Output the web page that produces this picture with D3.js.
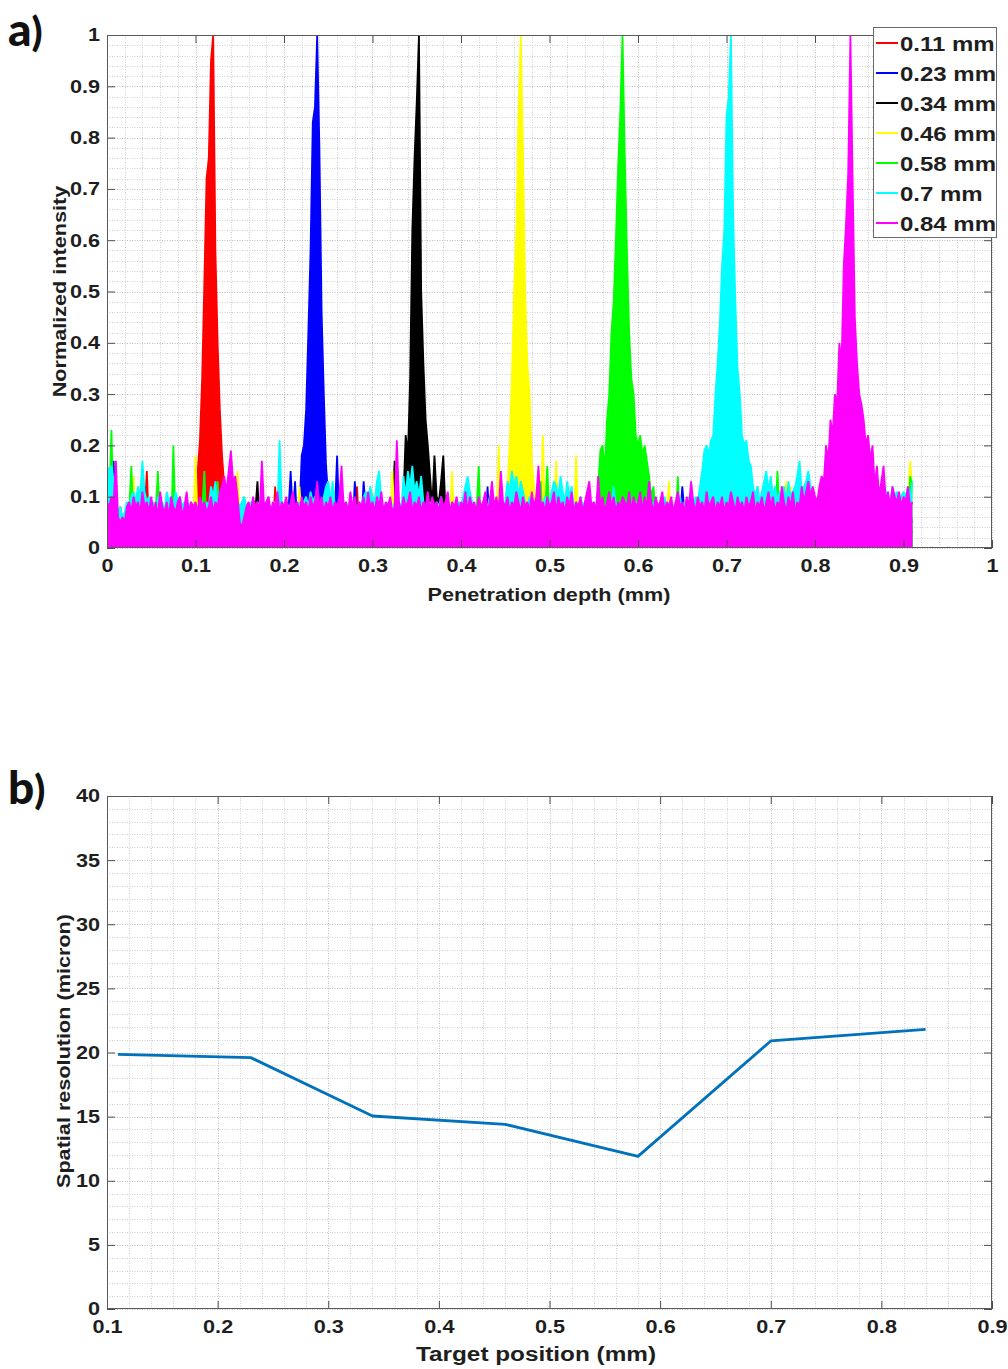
<!DOCTYPE html>
<html>
<head>
<meta charset="utf-8">
<script src="https://cdn.jsdelivr.net/npm/d3@7"></script>
<style>
  html, body { margin: 0; padding: 0; background: #fff; }
  svg { display: block; }
  text { font-family: "Liberation Sans", Arial, sans-serif; font-weight: bold; fill: #1e1e1e; }
  .tick text { font-size: 18.5px; }
  .tick line { stroke: #4d4d4d; }
  .grid-minor { stroke: #cfcfcf; stroke-width: 1; stroke-dasharray: 1 1.5; }
  .grid-major { stroke: #bdbdbd; stroke-width: 1; stroke-dasharray: 1 1.5; }
</style>
</head>
<body>
<svg id="fig" width="1008" height="1369"></svg>
<script>
// ---------- Panel a: normalized depth profiles ----------
// One sample every 0.0025 mm from 0 to 0.91 mm; intensity given in percent of the peak.
const sampleStep = 0.0025;
const targetLabels = ["0.11 mm", "0.23 mm", "0.34 mm", "0.46 mm", "0.58 mm", "0.7 mm", "0.84 mm"];
const profileColors = ["#ff0000", "#0000ff", "#000000", "#ffff00", "#00ff00", "#00ffff", "#ff00ff"];

const profile011 = [
  6,4,7,5,3,6,8,5,4,7,3,6,5,4,7,3,5,6,15,4,
  5,3,7,4,6,3,5,7,4,6,3,5,4,7,3,6,4,5,7,6,
  8,15,21,33,52,72,76,95,100,58,40,27,18,12,7,5,4,6,3,5,
  4,6,3,5,7,4,6,3,5,4,7,3,6,5,4,3,12,5,4,6,
  3,5,7,4,6,3,5,4,7,3,6,5,4,7,3,5,6,4,3,7,
  5,4,6,3,7,5,4,6,3,5,7,4,6,12,3,5,4,7,6,3,
  5,7,4,6,3,5,4,7,3,6,5,4,7,3,5,6,4,3,7,5,
  4,6,3,5,7,4,6,3,5,4,7,3,6,5,4,3,7,5,4,6,
  3,5,7,4,6,3,5,4,7,3,6,5,4,7,3,5,6,4,3,7,
  5,4,6,3,7,5,4,6,3,5,7,4,6,3,5,4,7,3,6,5,
  4,7,12,5,3,6,4,5,7,3,6,4,5,3,7,4,6,5,3,6,
  4,5,7,3,6,4,5,3,7,4,6,5,3,6,4,7,5,3,6,4,
  5,3,7,4,6,5,3,6,4,7,5,3,6,4,5,7,3,6,4,5,
  3,7,4,6,5,3,6,4,7,5,3,6,4,5,7,3,6,4,5,3,
  7,4,6,5,3,6,4,7,5,3,6,4,5,7,3,6,4,5,3,7,
  4,6,5,3,6,4,7,5,3,6,4,5,7,3,6,4,5,3,7,4,
  6,5,3,6,4,7,5,3,6,4,5,7,3,6,4,5,3,7,4,6,
  5,3,6,4,7,5,3,6,4,5,7,3,6,4,5,3,7,4,6,5,
  3,6,4,7,5
];
const profile023 = [
  5,7,4,17,6,3,7,5,4,6,3,5,7,4,6,3,5,12,4,6,
  3,7,5,4,6,3,5,7,4,6,3,5,4,7,3,6,5,4,7,3,
  6,4,5,7,3,6,4,5,3,7,4,6,5,3,6,4,7,5,3,6,
  4,5,7,3,6,4,5,3,7,4,6,5,3,6,4,7,5,3,6,4,
  5,3,7,15,6,13,4,7,18,20,27,42,58,83,86,100,78,46,30,16,
  10,6,4,7,18,5,3,6,4,7,5,3,13,6,4,5,13,7,3,6,
  4,7,5,3,6,4,5,7,3,6,4,5,3,7,4,6,5,3,6,4,
  7,5,3,6,4,5,7,3,6,4,5,3,7,4,6,5,3,6,4,7,
  5,3,6,4,7,5,3,6,4,5,7,3,12,4,6,5,3,6,4,7,
  3,6,4,5,7,3,6,4,5,3,7,4,6,5,3,6,4,7,5,3,
  6,4,5,7,3,6,4,5,3,7,4,6,5,3,6,4,7,5,3,6,
  4,5,7,3,6,4,5,3,7,4,6,5,3,6,4,7,5,3,6,4,
  5,3,7,4,6,5,3,6,4,7,5,3,6,4,5,7,3,6,4,5,
  12,7,4,6,5,3,6,4,7,5,3,6,4,5,7,3,6,4,5,3,
  7,4,6,5,3,6,4,7,5,3,6,4,5,7,3,6,4,5,3,7,
  4,6,5,3,6,4,7,5,3,6,4,5,7,3,6,4,5,3,7,4,
  6,5,3,6,4,7,5,3,6,4,5,7,3,6,4,5,3,7,4,6,
  5,3,6,4,7,5,3,6,4,5,7,3,6,4,5,3,7,10,6,5,
  3,6,4,7,5
];
const profile034 = [
  4,6,3,5,7,4,6,3,5,4,7,3,6,5,4,3,7,5,4,6,
  3,5,7,4,6,3,5,4,7,3,6,5,4,7,3,5,6,4,3,7,
  5,4,6,3,7,5,4,6,3,5,7,4,6,3,5,4,7,3,6,5,
  4,7,3,6,5,4,3,7,13,4,6,3,5,7,4,6,3,5,4,7,
  3,6,5,4,7,3,5,6,4,3,7,5,4,6,3,7,5,4,6,3,
  5,7,4,6,3,5,4,7,3,6,5,4,7,3,5,6,4,3,7,5,
  4,6,3,7,5,4,6,3,5,7,17,4,6,3,10,22,18,33,62,76,
  87,100,50,36,25,20,14,8,18,10,9,13,18,7,5,3,6,4,7,5,
  3,6,4,5,7,3,6,4,5,3,7,4,6,5,3,6,4,7,5,3,
  6,4,5,7,3,6,4,5,3,7,4,6,5,3,6,4,7,5,3,6,
  4,5,7,3,6,4,5,3,7,4,6,5,3,6,4,7,5,3,6,4,
  5,3,7,4,6,5,3,6,4,7,5,3,6,4,5,7,3,6,4,5,
  3,7,4,6,5,3,6,4,7,5,3,6,4,5,7,3,6,4,5,3,
  7,4,6,5,3,6,4,7,5,3,6,4,5,7,3,6,4,5,3,7,
  4,6,5,3,6,4,7,5,3,6,4,5,7,3,6,4,5,3,7,4,
  6,5,3,6,4,7,5,3,6,4,5,7,3,6,4,5,3,7,4,6,
  5,3,6,4,7,5,3,6,4,5,7,3,6,4,5,3,7,4,6,5,
  3,6,4,7,5,3,6,4,5,7,3,6,4,5,3,7,4,6,5,3,
  6,4,7,5,3
];
const profile046 = [
  5,7,4,6,3,5,7,4,6,5,3,6,14,4,12,5,3,7,4,6,
  5,3,6,4,7,5,3,6,4,5,7,3,6,4,5,3,7,4,6,5,
  18,4,6,3,7,5,4,6,3,5,7,4,6,3,5,4,7,3,6,15,
  6,4,10,5,3,7,4,6,5,3,6,4,7,5,3,6,4,5,7,3,
  6,4,5,3,7,4,6,12,5,3,6,4,7,5,3,6,4,5,7,3,
  6,4,5,3,7,4,6,5,3,6,4,7,5,3,6,4,5,7,3,6,
  11,4,5,3,7,4,6,5,3,15,4,7,5,3,6,4,5,7,3,6,
  4,5,3,7,4,6,5,3,6,4,7,5,3,6,4,5,15,3,6,4,
  7,5,3,6,4,5,7,3,6,4,5,3,7,4,6,5,3,20,4,6,
  7,12,20,33,50,62,85,100,78,50,36,30,17,12,6,4,7,22,5,3,
  6,4,5,17,3,7,4,6,5,3,6,4,18,5,3,7,4,6,5,3,
  6,4,7,5,3,6,4,5,7,3,6,4,5,3,7,4,6,5,3,6,
  4,7,5,3,6,4,5,7,3,6,4,5,3,7,13,4,6,5,3,6,
  4,5,7,3,6,4,5,3,7,4,6,5,3,6,4,7,5,3,6,4,
  5,3,7,4,6,5,3,6,4,7,5,3,6,4,5,7,3,6,4,5,
  3,7,4,6,5,3,6,13,4,12,5,3,6,4,7,5,3,6,4,5,
  7,3,6,4,5,3,7,4,6,5,3,6,4,7,5,3,6,4,5,7,
  3,6,4,5,3,7,4,6,5,3,6,4,7,5,3,6,4,5,7,3,
  6,4,9,17,11
];
const profile058 = [
  12,9,23,6,4,7,8,5,6,4,7,16,5,3,6,4,7,5,3,6,
  4,5,7,15,3,6,4,5,7,3,20,4,6,5,3,6,4,7,5,3,
  6,4,5,7,15,3,6,4,5,7,13,4,6,3,5,7,4,6,3,5,
  7,4,6,3,5,4,7,3,6,5,4,7,3,5,6,4,3,7,5,4,
  6,3,5,7,4,6,3,5,4,7,3,6,5,4,7,3,5,6,4,3,
  7,5,4,6,3,7,5,4,6,3,5,7,4,6,3,5,4,7,3,6,
  5,4,7,3,5,6,4,3,7,5,4,6,3,7,5,4,6,3,5,7,
  4,6,3,5,4,7,3,6,5,4,7,3,5,6,4,3,7,5,4,6,
  3,7,5,4,6,3,5,7,16,4,6,3,5,4,7,3,6,5,4,7,
  3,5,6,4,3,7,5,4,6,3,7,5,4,6,3,5,13,4,7,16,
  5,4,6,3,7,5,4,6,3,5,7,4,6,3,5,4,7,3,6,5,
  7,4,12,19,20,15,25,30,42,48,60,74,85,100,77,58,42,33,30,22,
  20,22,18,20,17,14,10,12,6,4,7,3,5,6,4,7,3,5,14,4,
  6,3,5,7,4,6,3,5,4,7,3,6,5,4,7,3,5,6,4,3,
  7,5,4,6,3,5,7,4,6,3,5,4,7,3,12,6,5,4,7,3,
  5,6,4,15,7,3,5,4,6,3,7,5,4,6,3,5,7,4,6,3,
  5,4,7,3,6,5,4,7,3,5,6,4,3,7,5,4,6,3,7,5,
  4,6,3,5,7,4,6,3,13,5,4,7,3,6,5,4,7,3,5,6,
  4,7,3,14,12
];
const profile070 = [
  16,15,16,13,9,7,8,6,7,9,8,10,11,9,12,10,17,11,9,10,
  8,9,7,10,8,9,7,11,9,10,8,11,9,10,8,9,7,8,9,7,
  8,7,9,8,7,9,8,12,10,13,8,9,10,12,9,8,10,9,7,9,
  8,9,10,8,7,9,8,7,9,8,7,9,8,10,7,8,9,7,21,8,
  7,9,8,7,9,8,7,9,8,9,10,8,11,9,10,8,9,8,10,12,
  13,9,13,8,7,9,8,7,9,8,7,9,8,7,9,8,10,11,9,12,
  10,9,13,15,9,8,7,9,8,7,9,8,9,7,14,10,15,12,16,11,
  13,10,14,9,8,7,9,8,7,9,8,10,7,9,8,7,9,8,7,9,
  8,10,12,14,11,9,8,7,9,8,7,9,8,10,7,9,8,7,9,8,
  9,13,11,15,12,14,10,13,11,9,8,10,7,9,8,7,9,8,10,8,
  9,11,13,12,10,14,11,9,13,10,12,8,9,7,10,8,9,7,9,8,
  9,8,7,9,8,7,9,8,7,12,8,9,7,9,8,7,9,8,7,9,
  8,9,7,9,8,7,9,8,10,7,9,8,10,7,9,8,7,9,8,10,
  7,9,8,10,9,8,10,9,12,15,19,20,18,21,22,30,36,44,55,62,
  84,88,100,65,48,35,30,22,20,21,17,16,12,10,12,9,11,13,15,11,
  14,10,12,9,11,10,12,9,13,10,11,12,14,17,11,12,13,15,12,10,
  9,8,10,7,9,8,7,9,8,7,9,8,7,9,8,7,9,8,7,9,
  8,7,9,8,7,9,8,11,10,12,9,13,11,10,9,12,10,11,9,10,
  11,10,12,9,13
];
const profile084 = [
  9,8,10,9,17,6,5,6,5,8,9,7,10,8,9,7,11,8,9,7,
  10,7,9,6,11,8,7,9,6,10,8,7,9,10,6,8,11,7,9,8,
  9,7,10,8,9,7,8,10,7,9,8,11,12,14,11,15,19,13,14,10,
  5,4,6,8,9,7,10,8,9,7,17,8,9,10,7,9,8,11,7,9,
  8,10,7,9,11,8,9,7,10,8,9,7,10,8,9,13,8,10,7,9,
  8,10,7,9,8,10,16,8,9,7,11,8,10,7,9,8,10,7,11,8,
  9,7,10,8,11,7,9,8,10,7,8,21,9,7,10,8,9,11,7,9,
  8,10,7,9,8,11,7,10,8,9,7,10,8,9,11,7,9,8,10,7,
  9,8,11,7,10,8,9,7,10,8,9,11,7,9,13,8,10,7,15,9,
  8,10,7,9,8,11,9,7,10,8,9,7,11,8,10,16,8,9,7,10,
  8,9,11,7,10,8,9,7,10,8,11,7,9,8,10,7,9,11,13,8,
  9,7,14,8,10,7,9,11,8,10,7,9,8,10,9,8,11,7,10,8,
  9,11,7,10,8,13,9,7,10,8,9,11,7,9,8,10,7,9,11,8,
  9,7,10,8,13,9,7,10,8,9,7,11,8,9,10,7,9,8,10,7,
  9,8,11,9,7,10,8,9,7,10,8,9,11,7,9,8,10,7,9,11,
  8,10,7,9,8,12,9,7,10,8,11,7,9,8,12,9,11,13,10,12,
  10,9,12,14,13,20,17,25,22,30,28,40,36,55,63,73,100,72,45,36,
  30,28,25,20,22,17,20,12,16,10,13,16,9,11,8,12,10,9,11,8,
  10,9,12,8,9
];
const profiles = [profile011, profile023, profile034, profile046, profile058, profile070, profile084];

const depthTicks = [0, 0.1, 0.2, 0.3, 0.4, 0.5, 0.6, 0.7, 0.8, 0.9, 1];
const intensityTicks = [0, 0.1, 0.2, 0.3, 0.4, 0.5, 0.6, 0.7, 0.8, 0.9, 1];

// ---------- Panel b: spatial resolution per target ----------
const targetPositions = [0.11, 0.23, 0.34, 0.46, 0.58, 0.7, 0.84];
const resolutionMicron = [19.85, 19.6, 15.05, 14.4, 11.9, 20.9, 21.8];
const positionTicks = [0.1, 0.2, 0.3, 0.4, 0.5, 0.6, 0.7, 0.8, 0.9];
const resolutionTicks = [0, 5, 10, 15, 20, 25, 30, 35, 40];

// ---------- drawing ----------
const svg = d3.select("#fig");
svg.append("rect").attr("width", 1008).attr("height", 1369).attr("fill", "#fff");

const textStretch = 1.17;           // glyphs drawn a little wider than the font's natural width
const tickFmt = d3.format("~");

function frame(g, x, y, xTicks, yTicks, xMinor, yMinor) {
  const [x0, x1] = x.range();
  const [y0, y1] = y.range();   // y0 bottom, y1 top
  const grid = g.append("g");
  grid.selectAll("line.vx").data(xMinor).join("line")
    .attr("class", d => xTicks.some(t => Math.abs(t - d) < 1e-9) ? "grid-major" : "grid-minor")
    .attr("x1", d => Math.round(x(d)) + 0.5).attr("x2", d => Math.round(x(d)) + 0.5)
    .attr("y1", y0).attr("y2", y1);
  grid.selectAll("line.hy").data(yMinor).join("line")
    .attr("class", d => yTicks.some(t => Math.abs(t - d) < 1e-9) ? "grid-major" : "grid-minor")
    .attr("y1", d => Math.round(y(d)) + 0.5).attr("y2", d => Math.round(y(d)) + 0.5)
    .attr("x1", x0).attr("x2", x1);
  return grid;
}

function axes(g, x, y, xTicks, yTicks) {
  const [x0, x1] = x.range();
  const [y0, y1] = y.range();
  const bottom = g.append("g").attr("transform", `translate(0,${y0})`)
    .call(d3.axisBottom(x).tickValues(xTicks).tickSize(-8).tickPadding(11).tickFormat(tickFmt));
  const left = g.append("g").attr("transform", `translate(${x0},0)`)
    .call(d3.axisLeft(y).tickValues(yTicks).tickSize(-8).tickPadding(6).tickFormat(tickFmt));
  const top = g.append("g").attr("transform", `translate(0,${y1})`)
    .call(d3.axisTop(x).tickValues(xTicks).tickSize(-8).tickFormat(""));
  const right = g.append("g").attr("transform", `translate(${x1},0)`)
    .call(d3.axisRight(y).tickValues(yTicks).tickSize(-8).tickFormat(""));
  [bottom, left, top, right].forEach(a => a.select(".domain").remove());
  bottom.selectAll(".tick text").attr("transform", `scale(${textStretch},1)`);
  left.selectAll(".tick text").attr("transform", `scale(${textStretch},1)`);
  g.append("rect").attr("x", x0 + 0.5).attr("y", y1 + 0.5)
    .attr("width", x1 - x0 - 1).attr("height", y0 - y1 - 1)
    .attr("fill", "none").attr("stroke", "#5a5a5a").attr("stroke-width", 1);
}

function label(g, str, x, y, size, rotate) {
  g.append("text")
    .attr("transform", `translate(${x},${y}) rotate(${rotate}) scale(${textStretch},1)`)
    .attr("text-anchor", "middle")
    .style("font-size", size + "px")
    .text(str);
}

function panelLetter(letter, x, y) {
  const t = svg.append("text").attr("x", x).attr("y", y)
    .style("font-family", "Lato, 'Open Sans', sans-serif").style("font-weight", 900)
    .style("fill", "#111");
  t.append("tspan").style("font-size", "46px").text(letter);
  t.append("tspan").style("font-size", "40px").text(")");
}

// ----- panel a -----
const ga = svg.append("g");
const xa = d3.scaleLinear().domain([0, 1]).range([107, 992]);
const ya = d3.scaleLinear().domain([0, 1]).range([548, 35]);
frame(ga, xa, ya, depthTicks, intensityTicks,
      d3.range(0, 51).map(k => k / 50), d3.range(0, 51).map(k => k / 50));

ga.append("clipPath").attr("id", "clipA").append("rect")
  .attr("x", 107).attr("y", 35).attr("width", 885).attr("height", 513);

const profileArea = d3.area()
  .x((d, i) => xa(i * sampleStep))
  .y0(ya(0))
  .y1(d => ya(d / 100));
const profileLine = d3.line()
  .x((d, i) => xa(i * sampleStep))
  .y(d => ya(d / 100));

const traces = ga.append("g").attr("clip-path", "url(#clipA)");
profiles.forEach((p, k) => {
  traces.append("path").attr("d", profileArea(p)).attr("fill", profileColors[k]);
  traces.append("path").attr("d", profileLine(p)).attr("fill", "none")
    .attr("stroke", profileColors[k]).attr("stroke-width", 1.8)
    .attr("stroke-linejoin", "miter").attr("stroke-miterlimit", 2);
});

axes(ga, xa, ya, depthTicks, intensityTicks);
label(ga, "Penetration depth (mm)", 549, 601, 18.5, 0);
label(ga, "Normalized intensity", 66, 291.5, 18.5, -90);

// legend
const leg = ga.append("g");
leg.append("rect").attr("x", 873.5).attr("y", 27.5).attr("width", 123).attr("height", 210)
  .attr("fill", "#fff").attr("stroke", "#6a6a6a").attr("stroke-width", 1);
targetLabels.forEach((t, k) => {
  const cy = 43 + k * 30;
  leg.append("line").attr("x1", 876).attr("x2", 898).attr("y1", cy).attr("y2", cy)
    .attr("stroke", profileColors[k]).attr("stroke-width", 2);
  leg.append("text")
    .attr("transform", `translate(900,${cy + 7.5}) scale(1.2,1)`)
    .style("font-size", "20px")
    .text(t);
});

panelLetter("a", 8, 46);

// ----- panel b -----
const gb = svg.append("g");
const xb = d3.scaleLinear().domain([0.1, 0.9]).range([107, 992]);
const yb = d3.scaleLinear().domain([0, 40]).range([1309, 796]);
frame(gb, xb, yb, positionTicks, resolutionTicks,
      d3.range(0, 41).map(k => 0.1 + k * 0.02), d3.range(0, 41));

gb.append("path")
  .datum(targetPositions.map((p, i) => [p, resolutionMicron[i]]))
  .attr("d", d3.line().x(d => xb(d[0])).y(d => yb(d[1])))
  .attr("fill", "none").attr("stroke", "#0072bd").attr("stroke-width", 2.8)
  .attr("stroke-linejoin", "round");

axes(gb, xb, yb, positionTicks, resolutionTicks);
label(gb, "Target position (mm)", 536, 1361, 20.8, 0);
label(gb, "Spatial resolution (micron)", 70, 1051, 18.5, -90);

panelLetter("b", 8, 804);
</script>
</body>
</html>
